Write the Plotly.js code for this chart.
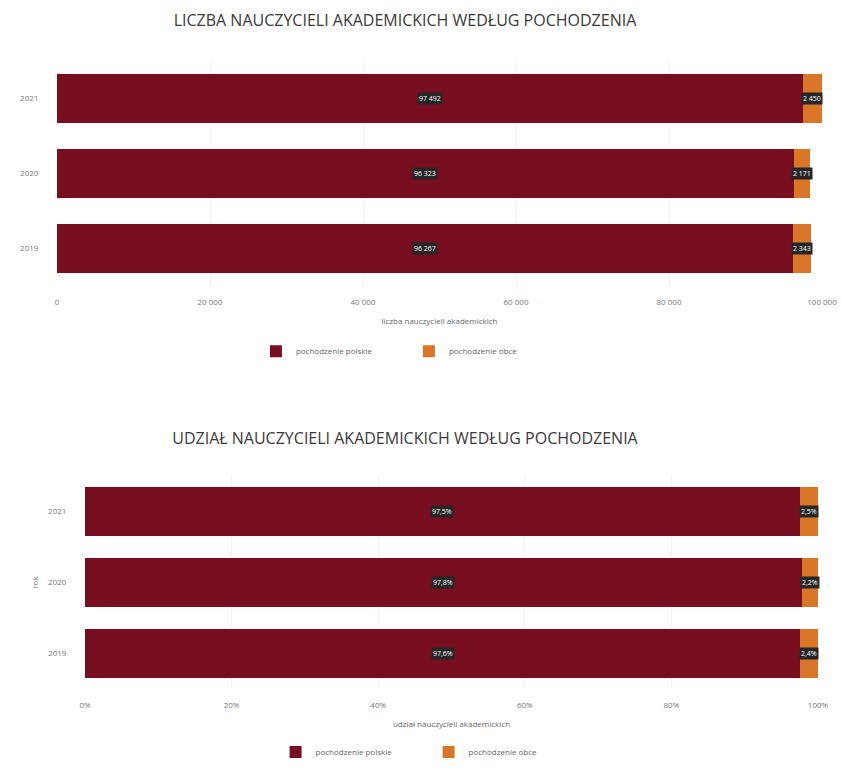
<!DOCTYPE html>
<html>
<head>
<meta charset="utf-8">
<script src="https://cdn.plot.ly/plotly-3.0.1.min.js"></script>
<style>
  html, body { margin: 0; padding: 0; background: #fff; }
  #c1 { width: 842px; height: 400px; }
  #c2 { width: 842px; height: 379px; }
</style>
</head>
<body>
<div id="c1"></div>
<div id="c2"></div>
<script>
// ---- data ----
const years = ["2021", "2020", "2019"];
const polish = [97492, 96323, 96267];
const foreign = [2450, 2171, 2343];
const polishPct = [97.5, 97.8, 97.6];
const foreignPct = [2.5, 2.2, 2.4];
const polishLabelsPct = ["97,5%", "97,8%", "97,6%"];
const foreignLabelsPct = ["2,5%", "2,2%", "2,4%"];
const seriesNames = ["pochodzenie polskie", "pochodzenie obce"];
const xTickVals1 = [0, 20000, 40000, 60000, 80000, 100000];
const xTickVals2 = [0, 20, 40, 60, 80, 100];

const RED = "#780f20";
const ORANGE = "#d97628";
const FONT = "Open Sans, sans-serif";
const catOrder = years.slice().reverse();

function fmt(n) {
  return String(n).replace(/\B(?=(\d{3})+(?!\d))/g, " ");
}

function makeAnnots(a, b, la, lb) {
  const ann = [];
  for (let i = 0; i < years.length; i++) {
    const yi = catOrder.indexOf(years[i]);
    ann.push({x: a[i] / 2, y: yi, text: la[i], showarrow: false,
      font: {family: FONT, size: 7, color: "#fff"}, bgcolor: "#262626",
      borderpad: 1, xref: "x", yref: "y"});
    ann.push({x: a[i] + b[i] / 2, y: yi, text: lb[i], showarrow: false,
      font: {family: FONT, size: 7, color: "#fff"}, bgcolor: "#262626",
      borderpad: 1, xref: "x", yref: "y"});
  }
  return ann;
}

function traces(a, b) {
  return [
    {type: "bar", orientation: "h", y: years, x: a, name: seriesNames[0],
     marker: {color: RED}, hoverinfo: "skip"},
    {type: "bar", orientation: "h", y: years, x: b, name: seriesNames[1],
     marker: {color: ORANGE}, hoverinfo: "skip"}
  ];
}

function baseLayout(opts) {
  return {
    barmode: "stack",
    bargap: opts.bargap,
    separators: ", ",
    paper_bgcolor: "#fff",
    plot_bgcolor: "#fff",
    font: {family: FONT, color: "#555"},
    margin: opts.margin,
    title: {text: opts.title, x: 0.481, xanchor: "center", y: opts.titleY, yanchor: "middle",
            font: {family: FONT, size: 16, color: "#3a3a3a"}},
    xaxis: {
      range: opts.xrange, tickvals: opts.tickvals, ticktext: opts.ticktext,
      showgrid: true, gridcolor: "#f2f2f2", zeroline: false, showline: false,
      ticks: "outside", ticklen: 8, tickcolor: "rgba(0,0,0,0)",
      tickfont: {family: FONT, size: 8, color: "#777"},
      title: {text: opts.xtitle, standoff: 12, font: {family: FONT, size: 8, color: "#666"}},
      fixedrange: true
    },
    yaxis: {
      type: "category", categoryorder: "array", categoryarray: catOrder,
      range: [-0.5, catOrder.length - 0.5], autorange: false,
      showgrid: false, zeroline: false, showline: false,
      ticks: "outside", ticklen: 16, tickcolor: "rgba(0,0,0,0)",
      tickfont: {family: FONT, size: 8, color: "#777"},
      title: opts.ytitle ? {text: opts.ytitle, standoff: 8, font: {family: FONT, size: 8, color: "#777"}} : {text: ""},
      fixedrange: true
    },
    legend: {orientation: "h", x: opts.legendX, xanchor: "left", y: opts.legendY, yanchor: "middle",
             traceorder: "normal", entrywidth: 108, entrywidthmode: "pixels",
             font: {family: FONT, size: 8, color: "#666"}, itemsizing: "constant"},
    annotations: opts.annotations
  };
}

Plotly.newPlot("c1", traces(polish, foreign), baseLayout({
  title: "LICZBA NAUCZYCIELI AKADEMICKICH WEDŁUG POCHODZENIA",
  titleY: 1 - 20 / 400,
  margin: {l: 57, r: 20, t: 61, b: 114},
  bargap: 0.35,
  xrange: [0, 100000],
  tickvals: xTickVals1,
  ticktext: xTickVals1.map(fmt),
  xtitle: "liczba nauczycieli akademickich",
  legendX: 0.26,
  legendY: -0.29,
  annotations: makeAnnots(polish, foreign, polish.map(fmt), foreign.map(fmt))
}), {displayModeBar: false, staticPlot: true});

Plotly.newPlot("c2", traces(polishPct, foreignPct), baseLayout({
  title: "UDZIAŁ NAUCZYCIELI AKADEMICKICH WEDŁUG POCHODZENIA",
  titleY: 1 - 38 / 379,
  margin: {l: 85, r: 24, t: 76, b: 87},
  bargap: 0.32,
  xrange: [0, 100],
  tickvals: xTickVals2,
  ticktext: xTickVals2.map(v => v + "%"),
  xtitle: "udział nauczycieli akademickich",
  ytitle: "rok",
  legendX: 0.26,
  legendY: -0.296,
  annotations: makeAnnots(polishPct, foreignPct, polishLabelsPct, foreignLabelsPct)
}), {displayModeBar: false, staticPlot: true});
</script>
</body>
</html>
